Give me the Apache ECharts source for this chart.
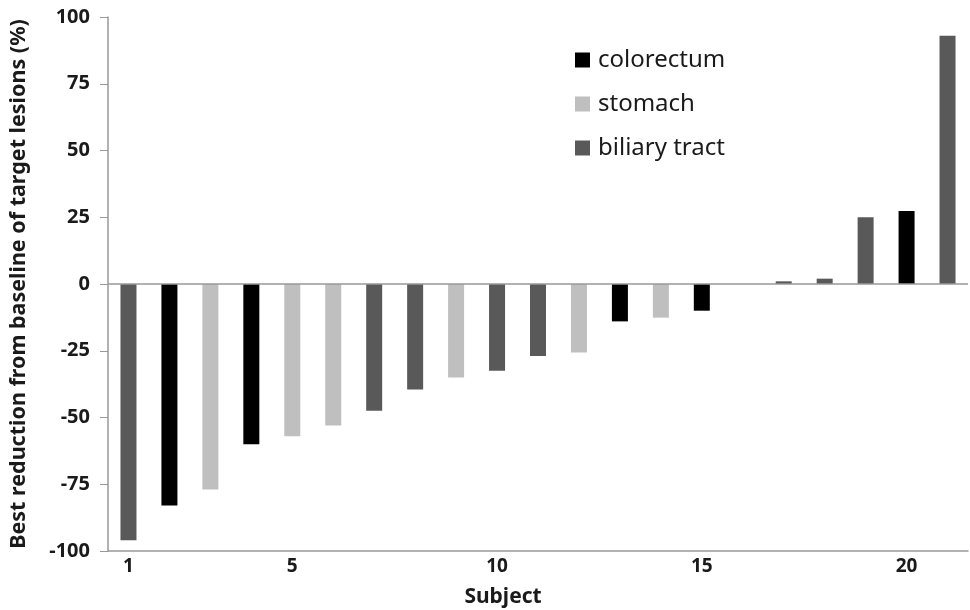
<!DOCTYPE html>
<html>
<head>
<meta charset="utf-8">
<script src="https://cdn.jsdelivr.net/npm/echarts@6/dist/echarts.min.js"></script>
<style>html,body{margin:0;padding:0;background:#fff}#c{width:970px;height:610px}</style>
</head>
<body>
<div id="c"></div>
<script>
const subjects = ['1','2','3','4','5','6','7','8','9','10','11','12','13','14','15','16','17','18','19','20','21'];
const values = [-96,-83,-77,-60,-57,-53,-47.5,-39.5,-35,-32.5,-27,-25.7,-14,-12.6,-10,0,1,2,25,27.3,93];
const types = ['biliary tract','colorectum','stomach','colorectum','stomach','stomach','biliary tract','biliary tract','stomach','biliary tract','biliary tract','stomach','colorectum','stomach','colorectum','','biliary tract','biliary tract','biliary tract','colorectum','biliary tract'];
const seriesNames = ['colorectum','stomach','biliary tract'];
const seriesColors = ['#000000','#bfbfbf','#595959'];
const shownLabels = ['1','5','10','15','20'];
const yTicks = [-100,-75,-50,-25,0,25,50,75,100];

const font = '"Noto Sans", "Open Sans", sans-serif';
const textColor = '#1a1a1a';

const series = seriesNames.map((name, si) => ({
  name: name,
  type: 'bar',
  stack: 'all',
  barWidth: 16,
  itemStyle: { color: seriesColors[si] },
  data: values.map((v, i) => types[i] === name ? v : null),
  markLine: si === 0 ? {
    silent: true, symbol: 'none', label: { show: false },
    lineStyle: { color: '#999', type: 'solid', width: 1.5 },
    data: [{ yAxis: 0 }]
  } : undefined
}));

const chart = echarts.init(document.getElementById('c'));
chart.setOption({
  backgroundColor: '#fff',
  animation: false,
  grid: { left: 107, right: 2, top: 17, bottom: 59 },
  legend: {
    orient: 'vertical', left: 570, top: 43,
    itemWidth: 15, itemHeight: 15, itemGap: 20,
    icon: 'rect',
    textStyle: { fontFamily: font, fontSize: 24, color: textColor, padding: [0,0,0,3] },
    data: seriesNames
  },
  xAxis: {
    type: 'category',
    data: subjects,
    axisLine: { onZero: false, lineStyle: { color: '#999', width: 1.5 } },
    axisTick: { show: false },
    axisLabel: {
      interval: 0, margin: 6,
      fontFamily: font, fontSize: 19, fontWeight: 'bold', color: textColor,
      formatter: v => shownLabels.includes(v) ? v : ''
    }
  },
  yAxis: {
    type: 'value', min: -100, max: 100, interval: 25,
    name: 'Best reduction from baseline of target lesions (%)',
    nameLocation: 'middle', nameGap: 78,
    nameTextStyle: { fontFamily: font, fontSize: 21.5, fontWeight: 'bold', color: textColor },
    axisLine: { show: true, lineStyle: { color: '#999', width: 1.5 } },
    axisTick: { show: true, length: 8, lineStyle: { color: '#999' } },
    splitLine: { show: false },
    axisLabel: {
      margin: 18, fontFamily: font, fontSize: 20, fontWeight: 'bold', color: textColor,
      formatter: v => yTicks.includes(v) ? String(v) : ''
    }
  },
  graphic: [{
    type: 'text', x: 503, y: 597,
    style: { text: 'Subject', fontFamily: font, fontSize: 21, fontWeight: 'bold', fill: textColor, align: 'center', verticalAlign: 'middle' }
  }],
  series: series
});
</script>
</body>
</html>
